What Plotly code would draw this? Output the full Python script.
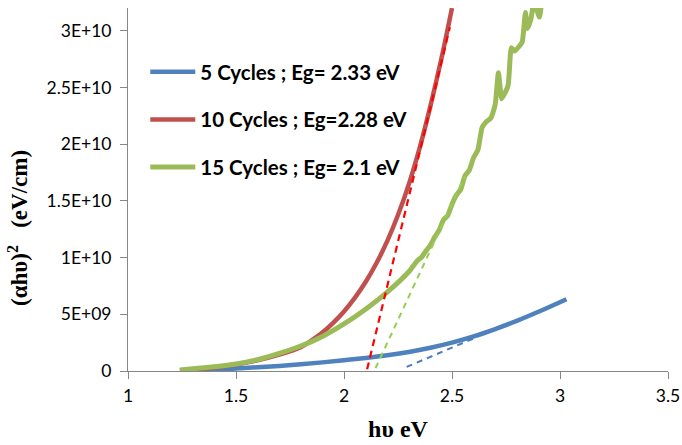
import plotly.graph_objects as go

# ---------------- data ----------------
x_blue = [1.25, 1.3, 1.4, 1.5, 1.6, 1.7, 1.8, 1.9, 2.0, 2.1, 2.2, 2.3, 2.4, 2.5, 2.6, 2.7, 2.8, 2.9, 3.03]
y_blue = [0.02e9, 0.05e9, 0.12e9, 0.22e9, 0.33e9, 0.45e9, 0.59e9, 0.76e9, 0.95e9, 1.15e9, 1.38e9, 1.68e9,
          2.05e9, 2.5e9, 3.05e9, 3.7e9, 4.42e9, 5.22e9, 6.33e9]

x_red = [1.24, 1.3, 1.4, 1.5, 1.6, 1.7, 1.8, 1.85, 1.9, 1.95, 2.0, 2.05, 2.1, 2.15, 2.2, 2.25, 2.3,
         2.35, 2.4, 2.45, 2.5]
y_red = [0.05e9, 0.12e9, 0.3e9, 0.58e9, 0.95e9, 1.45e9, 2.1e9, 2.7e9, 3.4e9, 4.25e9, 5.25e9, 6.45e9,
         7.85e9, 9.5e9, 1.145e10, 1.375e10, 1.645e10, 1.965e10, 2.335e10, 2.745e10, 3.2e10]

x_green = [1.24, 1.3, 1.4, 1.5, 1.6, 1.7, 1.8, 1.9, 2.0, 2.1, 2.2, 2.3, 2.34, 2.36, 2.38, 2.40, 2.42,
           2.44, 2.46, 2.48, 2.5, 2.52, 2.54, 2.56, 2.58, 2.6, 2.62, 2.64, 2.66, 2.68, 2.7, 2.715, 2.73,
           2.745, 2.76, 2.775, 2.79, 2.81, 2.825, 2.84, 2.85, 2.865, 2.88, 2.905, 2.92, 2.95]
y_green = [0.1e9, 0.2e9, 0.38e9, 0.62e9, 1.0e9, 1.55e9, 2.2e9, 3.05e9, 4.15e9, 5.45e9, 6.95e9, 8.75e9,
           0.975e10, 1.005e10, 1.06e10, 1.11e10, 1.18e10, 1.24e10, 1.33e10, 1.37e10, 1.47e10, 1.55e10,
           1.6e10, 1.72e10, 1.77e10, 1.88e10, 1.95e10, 2.15e10, 2.20e10, 2.23e10, 2.35e10, 2.63e10,
           2.40e10, 2.45e10, 2.52e10, 2.85e10, 2.82e10, 2.86e10, 2.90e10, 3.16e10, 3.02e10, 3.10e10,
           3.25e10, 3.12e10, 3.35e10, 3.6e10]

# tangent (extrapolation) lines: end points
x_blue_fit = [2.29, 2.6]
y_blue_fit = [0.36e9, 2.87e9]
x_red_fit = [2.107, 2.49]
y_red_fit = [0.15e9, 3.03e10]
x_green_fit = [2.146, 2.56]
y_green_fit = [0.25e9, 1.72e10]

series_names = ["5 Cycles ; Eg= 2.33 eV", "10 Cycles ; Eg=2.28 eV", "15 Cycles ; Eg= 2.1 eV"]

x_tickvals = [1, 1.5, 2, 2.5, 3, 3.5]
x_ticktext = ["1", "1.5", "2", "2.5", "3", "3.5"]
y_tickvals = [0, 5e9, 1e10, 1.5e10, 2e10, 2.5e10, 3e10]
y_ticktext = ["0", "5E+09", "1E+10", "1.5E+10", "2E+10", "2.5E+10", "3E+10"]

# ---------------- figure ----------------
c_blue, c_red, c_green = "#4F81BD", "#C0504D", "#9BBB59"

fig = go.Figure()
fig.add_trace(go.Scatter(x=x_blue, y=y_blue, mode="lines", name=series_names[0], legendgroup="a",
                         line=dict(color=c_blue, width=4.5, shape="spline", smoothing=1.0)))
fig.add_trace(go.Scatter(x=x_red, y=y_red, mode="lines", name=series_names[1], legendgroup="b",
                         line=dict(color=c_red, width=4.5, shape="spline", smoothing=1.0)))
fig.add_trace(go.Scatter(x=x_green, y=y_green, mode="lines", name=series_names[2], legendgroup="c",
                         line=dict(color=c_green, width=5, shape="spline", smoothing=0.5)))
fig.add_trace(go.Scatter(x=x_blue_fit, y=y_blue_fit, mode="lines", showlegend=False,
                         line=dict(color="#4A7EBB", width=2, dash="6px,5px")))
fig.add_trace(go.Scatter(x=x_red_fit, y=y_red_fit, mode="lines", showlegend=False,
                         line=dict(color="#FF0000", width=2.2, dash="7px,5px")))
fig.add_trace(go.Scatter(x=x_green_fit, y=y_green_fit, mode="lines", showlegend=False,
                         line=dict(color="#92D050", width=2, dash="6px,5px")))

axis_common = dict(showgrid=False, zeroline=False, showline=True, linecolor="#868686", linewidth=1,
                   ticks="outside", ticklen=7, tickcolor="#868686", tickwidth=1, automargin=False,
                   tickfont=dict(family="Lato", size=17.5, color="#000000"))

fig.update_xaxes(range=[1, 3.5], tickvals=x_tickvals, ticktext=x_ticktext, ticklabelstandoff=2,
                 title=dict(text="hυ eV", font=dict(family="Liberation Serif", size=24, color="#000000",
                                                   weight="bold"), standoff=15),
                 **axis_common)
fig.update_yaxes(range=[0, 3.2e10], tickvals=y_tickvals, ticktext=y_ticktext, ticklabelstandoff=5,
                 **axis_common)

fig.add_annotation(text="(αhυ)<sup>2</sup>   (eV/cm)", xref="paper", yref="paper",
                   x=-0.203, y=0.395, xanchor="center", yanchor="middle", textangle=-90, showarrow=False,
                   font=dict(family="Liberation Serif", size=23, color="#000000", weight="bold"))

fig.update_layout(
    width=682, height=445,
    margin=dict(l=128, r=14, t=8, b=74),
    paper_bgcolor="white", plot_bgcolor="white",
    showlegend=True,
    legend=dict(x=0.032, y=0.879, xanchor="left", yanchor="top", bgcolor="rgba(0,0,0,0)",
                itemwidth=45, tracegroupgap=18,
                font=dict(family="Lato", size=20.5, color="#000000", weight="bold")),
)

fig.write_html("out.html")
